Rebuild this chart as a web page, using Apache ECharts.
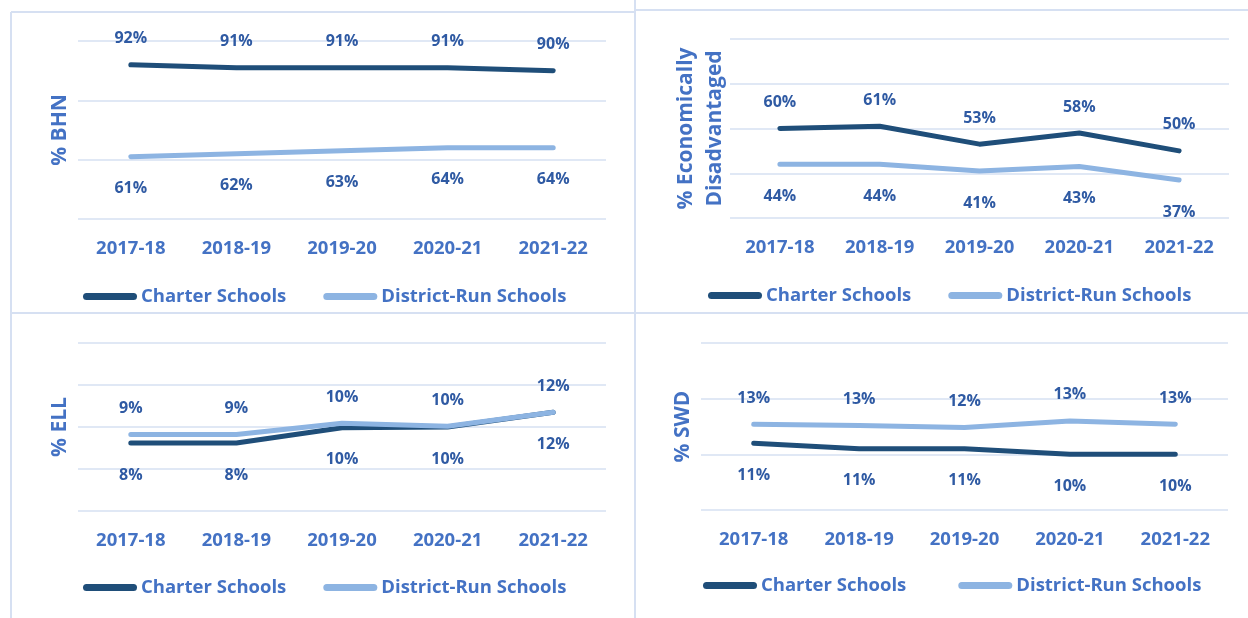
<!DOCTYPE html>
<html>
<head>
<meta charset="utf-8">
<script src="https://cdn.jsdelivr.net/npm/echarts@6/dist/echarts.min.js"></script>
<style>
  html, body { margin: 0; padding: 0; background: #fff; }
  #chart { width: 1248px; height: 618px; }
</style>
</head>
<body>
<div id="chart"></div>
<script>
const years = ['2017-18', '2018-19', '2019-20', '2020-21', '2021-22'];
const seriesNames = ['Charter Schools', 'District-Run Schools'];

const bhnCharter = [92, 91, 91, 91, 90];
const bhnDistrict = [61, 62, 63, 64, 64];

const econCharter = [60, 61, 53, 58, 50];
const econDistrict = [44, 44, 41, 43, 37];

const ellCharter = [8.1, 8.1, 9.9, 10.0, 11.75];
const ellDistrict = [9.1, 9.1, 10.45, 10.1, 11.75];

const swdCharter = [11.0, 10.5, 10.5, 10.0, 10.0];
const swdDistrict = [12.7, 12.6, 12.4, 13.0, 12.7];

const darkBlue = '#1f4e79';
const lightBlue = '#8db4e2';
const axisBlue = '#4472c4';
const labelBlue = '#2f5aa3';
const gridColor = '#d6e0f2';
const font = 'Open Sans';

// one entry per panel
const panels = [
  { grid: { left: 78, top: 41, width: 528, height: 178 }, min: 40, max: 100, interval: 20,
    name: '% BHN', nameGap: 3, charter: bhnCharter, district: bhnDistrict, charterPos: 'top',
    legend: { left: 83, top: 287, itemGap: 37 } },
  { grid: { left: 730, top: 39, width: 499, height: 179 }, min: 20, max: 100, interval: 20,
    name: '% Economically\nDisadvantaged', nameGap: 0, charter: econCharter, district: econDistrict, charterPos: 'top',
    legend: { left: 708, top: 286, itemGap: 37 } },
  { grid: { left: 78, top: 343, width: 528, height: 168 }, min: 0, max: 20, interval: 5,
    name: '% ELL', nameGap: 3, charter: ellCharter, district: ellDistrict, charterPos: 'bottom',
    legend: { left: 83, top: 578, itemGap: 37 } },
  { grid: { left: 701, top: 343, width: 527, height: 167 }, min: 5, max: 20, interval: 5,
    name: '% SWD', nameGap: 3, charter: swdCharter, district: swdDistrict, charterPos: 'bottom',
    legend: { left: 703, top: 576, itemGap: 52 } }
];

const legendIcon = 'path://M3.5,0H50.5A3.5,3.5,0,0,1,50.5,7H3.5A3.5,3.5,0,0,1,3.5,0Z';

const makeLabel = (pos) => ({
  show: true,
  position: pos,
  distance: pos === 'top' ? 18 : 24,
  color: labelBlue,
  fontFamily: font,
  fontWeight: 'bold',
  fontSize: 16,
  formatter: (p) => Math.round(p.value) + '%'
});

const makeSeries = (name, data, color, idx, pos) => ({
  type: 'line',
  name: name,
  data: data,
  xAxisIndex: idx,
  yAxisIndex: idx,
  symbol: 'circle',
  symbolSize: 0,
  showSymbol: true,
  itemStyle: { color: color },
  lineStyle: { color: color, width: 5, cap: 'round', join: 'round' },
  label: makeLabel(pos),
  emphasis: { disabled: true },
  animation: false
});

const grids = panels.map(p => Object.assign({ containLabel: false }, p.grid));

const xAxes = panels.map((p, i) => ({
  type: 'category',
  gridIndex: i,
  data: years,
  boundaryGap: true,
  axisLine: { show: false },
  axisTick: { show: false },
  axisLabel: { color: axisBlue, fontFamily: font, fontWeight: 'bold', fontSize: 18.5, margin: 20 }
}));

const yAxes = panels.map((p, i) => ({
  type: 'value',
  gridIndex: i,
  min: p.min,
  max: p.max,
  interval: p.interval,
  axisLine: { show: false },
  axisTick: { show: false },
  axisLabel: { show: false },
  splitLine: { lineStyle: { color: gridColor, width: 1.5 } },
  name: p.name,
  nameLocation: 'middle',
  nameRotate: 90,
  nameGap: p.nameGap,
  nameTextStyle: { color: axisBlue, fontFamily: font, fontWeight: 'bold', fontSize: 21, lineHeight: 29 }
}));

const series = [];
panels.forEach((p, i) => {
  const districtPos = p.charterPos === 'top' ? 'bottom' : 'top';
  series.push(makeSeries(seriesNames[0], p.charter, darkBlue, i, p.charterPos));
  series.push(makeSeries(seriesNames[1], p.district, lightBlue, i, districtPos));
});

const legends = panels.map(p => ({
  left: p.legend.left,
  top: p.legend.top,
  padding: 0,
  itemGap: p.legend.itemGap,
  itemWidth: 54,
  itemHeight: 7,
  icon: legendIcon,
  selectedMode: false,
  data: seriesNames,
  textStyle: { color: axisBlue, fontFamily: font, fontWeight: 'bold', fontSize: 18.5, padding: [0, 0, 0, -1] }
}));

// panel borders
const borderStyle = { stroke: gridColor, lineWidth: 2 };
const borders = [
  [11, 12, 635, 12],
  [635, 10, 1248, 10],
  [11, 313, 1248, 313],
  [11, 12, 11, 618],
  [635, 0, 635, 618]
].map(b => ({
  type: 'line',
  silent: true,
  shape: { x1: b[0], y1: b[1], x2: b[2], y2: b[3] },
  style: borderStyle
}));

const chart = echarts.init(document.getElementById('chart'));
chart.setOption({
  backgroundColor: '#fff',
  animation: false,
  grid: grids,
  xAxis: xAxes,
  yAxis: yAxes,
  legend: legends,
  series: series,
  graphic: borders
});
</script>
</body>
</html>
